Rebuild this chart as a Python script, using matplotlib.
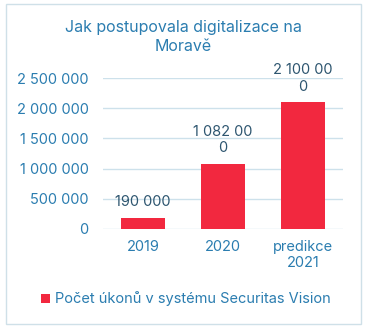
import matplotlib
matplotlib.use("Agg")
import matplotlib.pyplot as plt
from matplotlib.patches import Rectangle
from matplotlib.ticker import FuncFormatter

categories = ["2019", "2020", "predikce\n2021"]
values = [190000, 1082000, 2100000]
value_labels = ["190 000", "1 082 00\n0", "2 100 00\n0"]
yticks = [0, 500000, 1000000, 1500000, 2000000, 2500000]
title = "Jak postupovala digitalizace na\nMoravě"
legend_label = "Počet úkonů v systému Securitas Vision"

plt.rcParams['font.family'] = ['Inter', 'DejaVu Sans']

BLUE = "#2B7DB0"
DARK = "#2E5670"
RED = "#F2283F"
GRID = "#CDE1EB"

fig = plt.figure(figsize=(3.73, 3.34), dpi=100)
fig.patch.set_facecolor("white")
fig.add_artist(Rectangle((6/373, 1-324/334), 355/373, 320/334, transform=fig.transFigure,
                         fill=False, edgecolor="#CFE0E8", linewidth=1.0))

ax = fig.add_axes([103/373, 1-229/334, 240/373, 151/334])
x = range(len(categories))
bars = ax.bar(x, values, width=0.54, color=RED, zorder=3, label=legend_label)
ax.set_xlim(-0.5, 2.5)
ax.set_ylim(0, 2500000)
ax.set_yticks(yticks)
ax.yaxis.set_major_formatter(FuncFormatter(lambda v, p: f"{int(v):,}".replace(",", " ")))
ax.set_xticks(list(x))
ax.set_xticklabels(categories)
for s in ax.spines.values():
    s.set_visible(False)
ax.grid(axis="y", color=GRID, linewidth=1.0, zorder=0)
ax.tick_params(axis="both", length=0, labelsize=10.5, colors=BLUE)
ax.tick_params(axis="y", pad=10.5)
ax.tick_params(axis="x", pad=8)

for xi, v, lab in zip(x, values, value_labels):
    ax.annotate(lab, (xi, v), xytext=(0, 6), textcoords="offset points",
                ha="center", va="bottom", fontsize=10.5, color=DARK,
                linespacing=1.25, annotation_clip=False)

fig.text(183/373, 1-37/334, title, ha="center", va="center", fontsize=11.5,
         color=BLUE, linespacing=1.3)

leg = fig.legend(handles=[bars], labels=[legend_label], loc="center",
                 bbox_to_anchor=(186/373, 1-299/334), frameon=False,
                 fontsize=10.5, handlelength=0.6, handleheight=0.6,
                 handletextpad=0.35, borderpad=0)
for t in leg.get_texts():
    t.set_color(BLUE)

fig.savefig("out.png", dpi=100)
